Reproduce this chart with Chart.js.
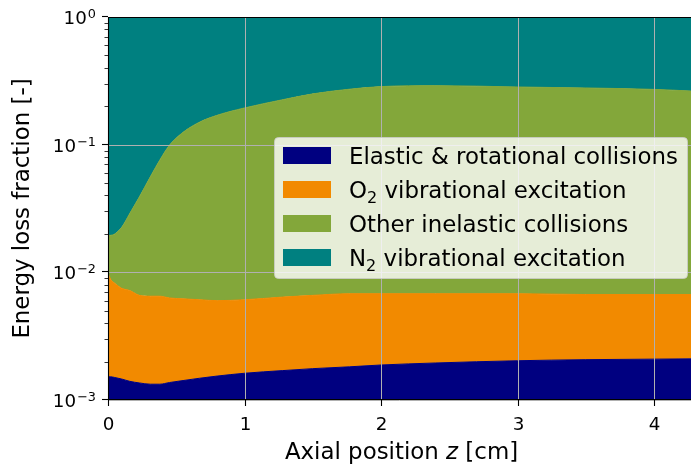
<!DOCTYPE html>
<html>
<head>
<meta charset="utf-8">
<script src="https://cdn.jsdelivr.net/npm/chart.js@4.4.1/dist/chart.umd.min.js"></script>
<style>
  html, body { margin: 0; padding: 0; background: #fff; }
  #wrap { width: 691px; height: 467px; }
</style>
</head>
<body>
<div id="wrap"><canvas id="chart" width="691" height="467"></canvas></div>
<script>
// Energy loss fractions along the axial position
const z = [0, 0.02, 0.05, 0.1, 0.16, 0.23, 0.31, 0.38, 0.45, 0.55, 0.67, 0.8, 1.0, 1.28, 1.5, 1.77, 2.0, 2.4, 3.0, 3.5, 4.0, 4.27];
const elastic = [0.00152, 0.00152, 0.00150, 0.00146, 0.00140, 0.00136, 0.00133, 0.00133, 0.00137, 0.00142, 0.00148, 0.00154, 0.00162, 0.00170, 0.00176, 0.00182, 0.00188, 0.00195, 0.00203, 0.00207, 0.00209, 0.00210];
const o2Vib = [0.00828, 0.00728, 0.00670, 0.00604, 0.00580, 0.00524, 0.00517, 0.00517, 0.00493, 0.00478, 0.00462, 0.00446, 0.00448, 0.00470, 0.00484, 0.00498, 0.00492, 0.00485, 0.00477, 0.00463, 0.00461, 0.00460];
const otherInelastic = [0.0097, 0.0107, 0.0118, 0.0150, 0.0218, 0.0324, 0.0495, 0.0695, 0.0927, 0.1188, 0.1439, 0.1640, 0.1879, 0.2186, 0.2434, 0.2652, 0.2782, 0.2832, 0.2762, 0.2713, 0.2643, 0.2563];
const n2Vib = [0.9805, 0.9805, 0.9800, 0.9775, 0.971, 0.961, 0.944, 0.924, 0.901, 0.875, 0.850, 0.830, 0.806, 0.775, 0.750, 0.728, 0.715, 0.710, 0.717, 0.722, 0.729, 0.737];

const xTicks = [0, 1, 2, 3, 4];
const yDecades = [-3, -2, -1, 0];

// legend labels, split in parts so subscripts can be drawn
const seriesLabels = [
  [{ t: 'Elastic & rotational collisions' }],
  [{ t: 'O' }, { t: '2', sub: true }, { t: ' vibrational excitation' }],
  [{ t: 'Other inelastic collisions' }],
  [{ t: 'N' }, { t: '2', sub: true }, { t: ' vibrational excitation' }]
];
const seriesColors = ['#000080', '#f28a00', '#83a73a', '#008080'];

const FONT = '"DejaVu Sans", "Liberation Sans", sans-serif';
const LABEL_SIZE = 22.9;
const TICK_SIZE = 18.3;

// stack the fractions into cumulative boundaries
const seriesValues = [elastic, o2Vib, otherInelastic, n2Vib];
const cumulative = [];
seriesValues.forEach((vals, i) => {
  cumulative.push(vals.map((v, j) => (i ? cumulative[i - 1][j] : 0) + v));
});

const datasets = cumulative.map((vals, i) => ({
  label: seriesLabels[i].map(p => p.t).join(''),
  data: vals.map((v, j) => ({ x: z[j], y: Math.min(v, 1) })),
  backgroundColor: seriesColors[i],
  borderColor: seriesColors[i],
  borderWidth: 1,
  pointRadius: 0,
  fill: i === 0 ? 'start' : '-1',
  cubicInterpolationMode: 'monotone'
}));

function drawParts(ctx, parts, x, y, size) {
  parts.forEach(p => {
    const s = p.sub ? size * 0.7 : size;
    ctx.font = (p.it ? 'italic ' : '') + s + 'px ' + FONT;
    ctx.fillText(p.t, x, p.sub ? y + size * 0.22 : y);
    x += ctx.measureText(p.t).width;
  });
}

function partsWidth(ctx, parts, size) {
  let w = 0;
  parts.forEach(p => {
    const s = p.sub ? size * 0.7 : size;
    ctx.font = (p.it ? 'italic ' : '') + s + 'px ' + FONT;
    w += ctx.measureText(p.t).width;
  });
  return w;
}

const axesPlugin = {
  id: 'axesPlugin',
  afterDraw(chart) {
    const { ctx, chartArea: a, scales: { x, y } } = chart;
    ctx.save();

    // grid on top of the areas
    ctx.strokeStyle = '#b0b0b0';
    ctx.lineWidth = 1;
    xTicks.forEach(t => {
      const px = Math.round(x.getPixelForValue(t)) + 0.5;
      ctx.beginPath(); ctx.moveTo(px, a.top); ctx.lineTo(px, a.bottom); ctx.stroke();
    });
    yDecades.forEach(e => {
      const py = Math.round(y.getPixelForValue(Math.pow(10, e))) + 0.5;
      ctx.beginPath(); ctx.moveTo(a.left, py); ctx.lineTo(a.right, py); ctx.stroke();
    });

    // spines
    ctx.strokeStyle = '#000';
    ctx.lineWidth = 1.1;
    ctx.beginPath();
    ctx.moveTo(a.right, a.top + 0.5); ctx.lineTo(a.left + 0.5, a.top + 0.5);
    ctx.lineTo(a.left + 0.5, a.bottom - 0.5); ctx.lineTo(a.right, a.bottom - 0.5);
    ctx.stroke();

    // x ticks and labels
    ctx.fillStyle = '#000';
    ctx.font = TICK_SIZE + 'px ' + FONT;
    ctx.textAlign = 'center';
    ctx.textBaseline = 'alphabetic';
    xTicks.forEach(t => {
      const px = Math.round(x.getPixelForValue(t)) + 0.5;
      ctx.beginPath(); ctx.moveTo(px, a.bottom); ctx.lineTo(px, a.bottom + 6); ctx.stroke();
      ctx.fillText(String(t), px, a.bottom + 30);
    });

    // y ticks (major + minor) and labels
    yDecades.forEach(e => {
      const py = Math.round(y.getPixelForValue(Math.pow(10, e))) - 0.5;
      ctx.lineWidth = 1.1;
      ctx.beginPath(); ctx.moveTo(a.left, py); ctx.lineTo(a.left - 6, py); ctx.stroke();
      if (e < 0) {
        for (let m = 2; m <= 9; m++) {
          const pm = Math.round(y.getPixelForValue(m * Math.pow(10, e))) + 0.5;
          ctx.lineWidth = 0.8;
          ctx.beginPath(); ctx.moveTo(a.left, pm); ctx.lineTo(a.left - 3.5, pm); ctx.stroke();
        }
      }
      const exp = (e < 0 ? '\u2212' : '') + Math.abs(e);
      ctx.textAlign = 'right';
      ctx.font = (TICK_SIZE * 0.7) + 'px ' + FONT;
      const ew = ctx.measureText(exp).width;
      ctx.fillText(exp, 96, py + 1);
      ctx.font = TICK_SIZE + 'px ' + FONT;
      ctx.fillText('10', 96 - ew - 1, py + 7.5);
    });

    // axis titles
    ctx.textAlign = 'left';
    const xTitle = [{ t: 'Axial position ' }, { t: 'z', it: true }, { t: ' [cm]' }];
    const tw = partsWidth(ctx, xTitle, LABEL_SIZE);
    drawParts(ctx, xTitle, (a.left + a.right) / 2 - tw / 2 + 2, 459, LABEL_SIZE);

    ctx.save();
    ctx.translate(29, (a.top + a.bottom) / 2);
    ctx.rotate(-Math.PI / 2);
    ctx.textAlign = 'center';
    ctx.font = LABEL_SIZE + 'px ' + FONT;
    ctx.fillText('Energy loss fraction [-]', 0, 0);
    ctx.restore();

    // legend
    const lx = 274, ly = 137, lw = 413, lh = 141;
    ctx.beginPath();
    ctx.roundRect(lx + 0.5, ly + 0.5, lw, lh, 4);
    ctx.fillStyle = 'rgba(255,255,255,0.8)';
    ctx.fill();
    ctx.strokeStyle = 'rgba(204,204,204,0.8)';
    ctx.lineWidth = 1;
    ctx.stroke();
    seriesLabels.forEach((parts, i) => {
      const cy = 155.5 + i * 34;
      ctx.fillStyle = seriesColors[i];
      ctx.fillRect(283, cy - 8.5, 48, 17);
      ctx.fillStyle = '#000';
      ctx.textAlign = 'left';
      drawParts(ctx, parts, 349, cy + 8, LABEL_SIZE);
    });

    ctx.restore();
  }
};

new Chart(document.getElementById('chart'), {
  type: 'line',
  data: { datasets },
  options: {
    responsive: false,
    animation: false,
    layout: { padding: { left: 108, top: 17, right: 0, bottom: 67 } },
    plugins: { legend: { display: false }, tooltip: { enabled: false } },
    scales: {
      x: { type: 'linear', min: 0, max: 4.27, display: false },
      y: { type: 'logarithmic', min: 0.001, max: 1, display: false }
    }
  },
  plugins: [axesPlugin]
});
</script>
</body>
</html>
